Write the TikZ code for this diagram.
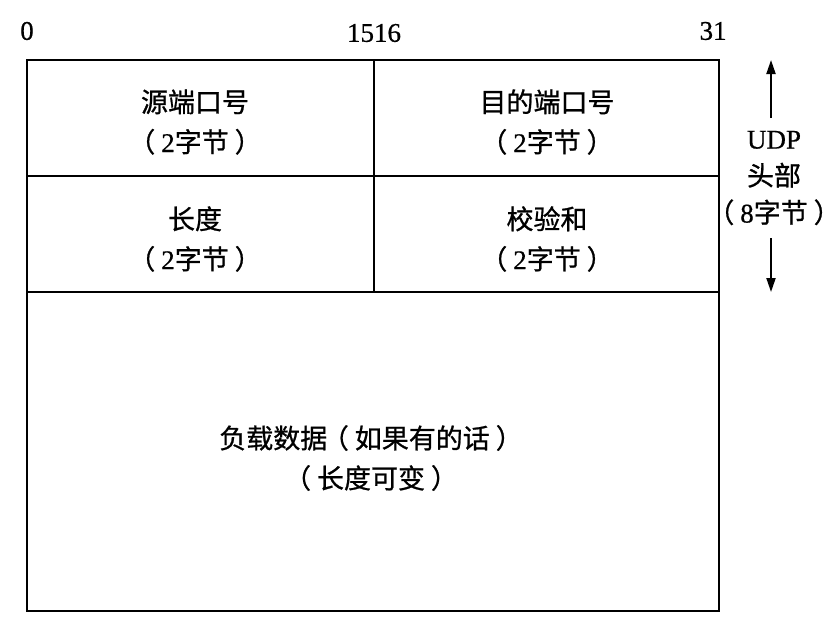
\documentclass[tikz,border=0pt]{standalone}
\usepackage{fontspec}
\setmainfont{Liberation Serif}[FakeBold=0.6]
\newfontfamily\cjk{Noto Sans CJK SC}[FakeBold=0.8]
\usetikzlibrary{arrows.meta}
\newcommand{\lp}{{\cjk （}\hspace{0.22em}}
\newcommand{\rp}{\hspace{0.22em}{\cjk ）}}
\begin{document}
\begin{tikzpicture}[x=0.5pt,y=-0.5pt,
  frame/.style={line width=1pt,black},
  celltext/.style={align=center,inner sep=0pt,font=\fontsize{13.5}{20}\selectfont},
  bitlabel/.style={inner sep=0pt,font=\fontsize{13.5}{16}\selectfont},
  hdrarrow/.style={line width=1pt,-{Triangle[length=7pt,width=4.5pt]}}]
\useasboundingbox (0,0) rectangle (838,628);
% frame
\draw[frame] (27,60) rectangle (719,611);
\draw[frame] (27,176) -- (719,176);
\draw[frame] (27,292) -- (719,292);
\draw[frame] (374,60) -- (374,292);
% bit labels
\node[bitlabel] (b0) at (27,31) {0};
\node[bitlabel] (b15) at (374,33) {1516};
\node[bitlabel,anchor=east] (b31) at (727,31) {31};
% cell texts
\node[celltext] (src) at (195,122) {{\cjk 源端口号}\\\lp 2{\cjk 字节}\rp};
\node[celltext] (dst) at (547,122) {{\cjk 目的端口号}\\\lp 2{\cjk 字节}\rp};
\node[celltext] (len) at (195,239) {{\cjk 长度}\\\lp 2{\cjk 字节}\rp};
\node[celltext] (chk) at (547,239) {{\cjk 校验和}\\\lp 2{\cjk 字节}\rp};
\node[celltext] (data) at (371,458) {{\cjk 负载数据}\hspace{-0.2em}\lp{\cjk 如果有的话}\rp\\\lp{\cjk 长度可变}\rp};
% header label
\node[celltext,font=\fontsize{13.5}{18.5}\selectfont] (hdr) at (774,178) {UDP\\{\cjk 头部}\\\lp 8{\cjk 字节}\rp};
\coordinate (upS) at (771,118);
\coordinate (upT) at (771,60);
\coordinate (dnS) at (771,238);
\coordinate (dnT) at (771,292);
\draw[hdrarrow] (upS) -- (upT);
\draw[hdrarrow] (dnS) -- (dnT);
\end{tikzpicture}
\end{document}
